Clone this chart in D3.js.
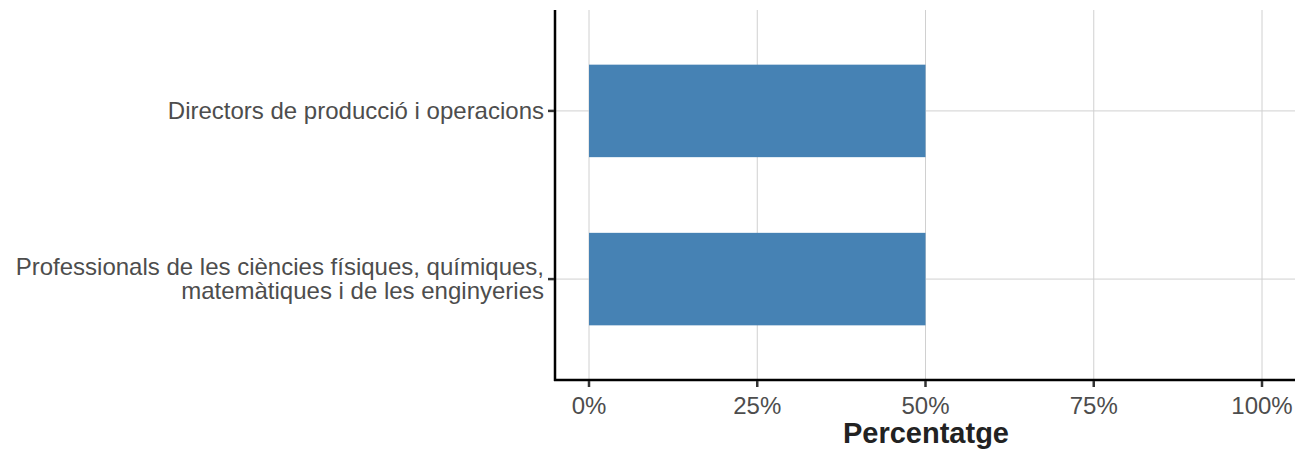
<!DOCTYPE html>
<html>
<head>
<meta charset="utf-8">
<script src="https://cdn.jsdelivr.net/npm/d3@7"></script>
<style>
  body { margin: 0; background: #fff; }
  svg { display: block; font-family: "Liberation Sans", Arial, sans-serif; }
  .grid line { stroke: #d0d0d0; stroke-width: 1; }
  .tick-label { fill: #4d4d4d; font-size: 24px; }
</style>
</head>
<body>
<svg id="chart" width="1298" height="449"></svg>
<script>
// categories from top to bottom
let categories = [
  ["Directors de producció i operacions"],
  ["Professionals de les ciències físiques, químiques,", "matemàtiques i de les enginyeries"]
];
let values = [0.5, 0.5];
let xTicks = [0, 0.25, 0.5, 0.75, 1];
let xTickLabels = ["0%", "25%", "50%", "75%", "100%"];
let xTitle = "Percentatge";

let panel = { left: 555, right: 1295, top: 10, bottom: 380 };

let svg = d3.select("#chart");

let x = d3.scaleLinear()
  .domain([0, 1])
  .range([589, 1262]);

// discrete axis with ggplot-like 0.6 expansion on both sides
let y = d3.scaleLinear()
  .domain([-0.6, categories.length - 1 + 0.6])
  .range([panel.top, panel.bottom]);
let barH = (y(1) - y(0)) * 0.55;

// grid
let grid = svg.append("g").attr("class", "grid");
grid.selectAll(".vgrid")
  .data(xTicks)
  .enter()
  .append("line")
  .attr("class", "vgrid")
  .attr("x1", d => x(d))
  .attr("x2", d => x(d))
  .attr("y1", panel.top)
  .attr("y2", panel.bottom);
grid.selectAll(".hgrid")
  .data(categories)
  .enter()
  .append("line")
  .attr("class", "hgrid")
  .attr("x1", panel.left)
  .attr("x2", panel.right)
  .attr("y1", (d, i) => y(i))
  .attr("y2", (d, i) => y(i));

// bars
svg.selectAll(".bar")
  .data(values)
  .enter()
  .append("rect")
  .attr("class", "bar")
  .attr("x", x(0))
  .attr("y", (d, i) => y(i) - barH / 2)
  .attr("width", d => x(d) - x(0))
  .attr("height", barH)
  .attr("fill", "#4682b4");

// axis lines
svg.append("line")
  .attr("x1", panel.left).attr("x2", panel.left)
  .attr("y1", panel.top).attr("y2", panel.bottom + 1)
  .attr("stroke", "#000").attr("stroke-width", 2.5);
svg.append("line")
  .attr("x1", panel.left - 1).attr("x2", panel.right)
  .attr("y1", panel.bottom).attr("y2", panel.bottom)
  .attr("stroke", "#000").attr("stroke-width", 2.5);

// x ticks
let xt = svg.append("g");
xt.selectAll("line")
  .data(xTicks)
  .enter()
  .append("line")
  .attr("x1", d => x(d)).attr("x2", d => x(d))
  .attr("y1", panel.bottom + 1).attr("y2", panel.bottom + 7)
  .attr("stroke", "#333").attr("stroke-width", 2.5);
xt.selectAll("text")
  .data(xTicks)
  .enter()
  .append("text")
  .attr("class", "tick-label")
  .attr("x", d => x(d))
  .attr("y", 414)
  .attr("text-anchor", "middle")
  .text((d, i) => xTickLabels[i]);

// y ticks
let yt = svg.append("g");
yt.selectAll("line")
  .data(categories)
  .enter()
  .append("line")
  .attr("x1", panel.left - 7).attr("x2", panel.left - 1)
  .attr("y1", (d, i) => y(i)).attr("y2", (d, i) => y(i))
  .attr("stroke", "#333").attr("stroke-width", 2.5);
yt.selectAll("text")
  .data(categories)
  .enter()
  .append("text")
  .attr("class", "tick-label")
  .attr("text-anchor", "end")
  .attr("y", (d, i) => y(i) - (d.length - 1) * 12 + 8)
  .each(function (d) {
    d3.select(this).selectAll("tspan")
      .data(d)
      .enter()
      .append("tspan")
      .attr("x", panel.left - 11)
      .attr("dy", (s, j) => j === 0 ? 0 : 24)
      .text(s => s);
  });

// x title
svg.append("text")
  .attr("x", (panel.left + panel.right) / 2 + 1)
  .attr("y", 443)
  .attr("text-anchor", "middle")
  .attr("font-size", 29)
  .attr("font-weight", "bold")
  .attr("fill", "#222")
  .text(xTitle);
</script>
</body>
</html>
